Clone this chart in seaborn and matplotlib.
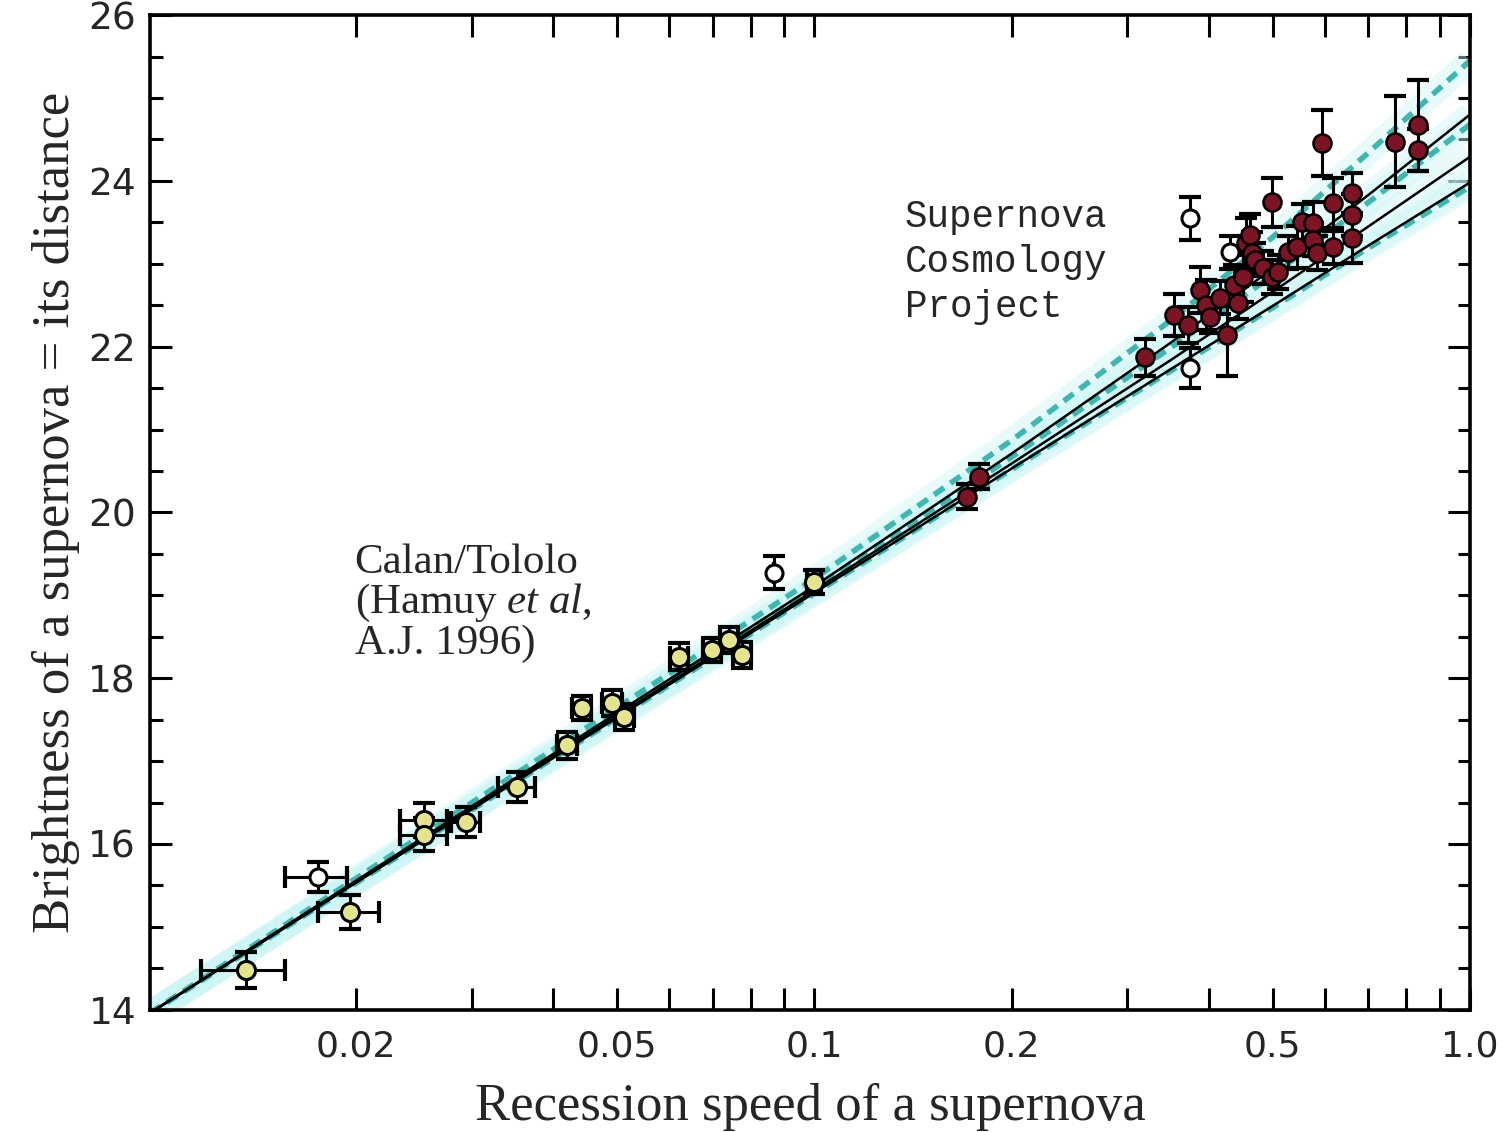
import numpy as np
import pandas as pd
import seaborn as sns
import matplotlib.pyplot as plt
from matplotlib.ticker import FixedLocator, FixedFormatter, MultipleLocator

sns.set_theme(style="white")
plt.rcParams["mathtext.fontset"] = "custom"
plt.rcParams["mathtext.rm"] = "Liberation Serif"
plt.rcParams["mathtext.it"] = "Liberation Serif:italic"

# Calan/Tololo supernovae (filled, yellow)
ct_x = [0.0136, 0.0196, 0.0254, 0.0254, 0.0294, 0.0352, 0.0420, 0.0442, 0.0492,
        0.0513, 0.0622, 0.0699, 0.0742, 0.0776, 0.100]
ct_y = [14.48, 15.18, 16.29, 16.11, 16.27, 16.69, 17.19, 17.64, 17.70,
        17.53, 18.26, 18.34, 18.46, 18.28, 19.16]
ct_yerr = [0.22, 0.20, 0.20, 0.20, 0.18, 0.18, 0.16, 0.15, 0.16,
           0.16, 0.16, 0.15, 0.16, 0.16, 0.15]
ct_xerr = [0.0020, 0.0021, 0.0021, 0.0021, 0.0015, 0.0023, 0.0015, 0.0015, 0.0017,
           0.0017, 0.0020, 0.0022, 0.0023, 0.0024, 0.0025]

# Calan/Tololo open symbols
cto_x = [0.0175, 0.0869]
cto_y = [15.60, 19.27]
cto_yerr = [0.18, 0.20]
cto_xerr = [0.0019, 0.0]

# Supernova Cosmology Project (filled, dark red)
scp_x = [0.1712, 0.1786, 0.319, 0.354, 0.371, 0.387, 0.395, 0.401, 0.4155, 0.426,
         0.437, 0.4425, 0.450, 0.455, 0.4615, 0.4647, 0.470, 0.483, 0.4987, 0.4987,
         0.510, 0.527, 0.545, 0.554, 0.576, 0.576, 0.584, 0.594, 0.618, 0.618,
         0.661, 0.661, 0.661, 0.768, 0.833, 0.833]
scp_y = [20.19, 20.43, 21.87, 22.38, 22.26, 22.68, 22.50, 22.36, 22.59, 22.14,
         22.74, 22.53, 22.84, 23.25, 23.35, 23.13, 23.05, 22.95, 22.84, 23.74,
         22.90, 23.14, 23.20, 23.50, 23.49, 23.29, 23.13, 24.46, 23.73, 23.20,
         23.85, 23.59, 23.31, 24.47, 24.67, 24.37]
scp_yerr = [0.15, 0.15, 0.22, 0.25, 0.22, 0.28, 0.30, 0.20, 0.20, 0.50,
            0.25, 0.20, 0.30, 0.30, 0.25, 0.25, 0.20, 0.20, 0.20, 0.30,
            0.20, 0.20, 0.25, 0.22, 0.25, 0.20, 0.20, 0.40, 0.30, 0.20,
            0.25, 0.25, 0.30, 0.55, 0.55, 0.25]

# SCP open symbols
scpo_x = [0.374, 0.374, 0.430]
scpo_y = [23.55, 21.74, 23.14]
scpo_yerr = [0.26, 0.24, 0.20]

# model curves
model_x = [0.0097, 0.1, 0.2, 0.35, 0.5, 0.7, 1.0]
solid_a = [13.96, 19.11, 20.71, 22.05, 22.94, 23.83, 24.80]
solid_b = [13.96, 19.06, 20.59, 21.84, 22.66, 23.45, 24.29]
solid_c = [13.96, 19.03, 20.53, 21.73, 22.49, 23.22, 23.98]
dash_a = [13.96, 19.20, 20.87, 22.32, 23.32, 24.34, 25.45]
dash_b = [13.96, 19.09, 20.67, 21.99, 22.86, 23.74, 24.68]
dash_c = [13.96, 19.02, 20.52, 21.71, 22.47, 23.19, 23.93]

x_ticks = [0.02, 0.03, 0.04, 0.05, 0.06, 0.07, 0.08, 0.09, 0.1,
           0.2, 0.3, 0.4, 0.5, 0.6, 0.7, 0.8, 0.9, 1.0]
x_labels = ["0.02", "", "", "0.05", "", "", "", "", "0.1",
            "0.2", "", "", "0.5", "", "", "", "", "1.0"]

fig = plt.figure(figsize=(15.06, 11.32), dpi=100)
ax = fig.add_axes([0.0996, 0.108, 0.8765, 0.8787])

# cyan halo under the model curves
for ys in [solid_a, solid_b, solid_c, dash_a, dash_b, dash_c]:
    ax.plot(model_x, ys, color="#cff6f6", lw=18, alpha=0.45, solid_capstyle="butt", zorder=1)

for ys in [dash_a, dash_b, dash_c]:
    sns.lineplot(x=model_x, y=ys, ax=ax, color="#3cb8b0", lw=4,
                 linestyle=(0, (2.2, 1.4)), zorder=2)
for ys in [solid_a, solid_b, solid_c]:
    sns.lineplot(x=model_x, y=ys, ax=ax, color="black", lw=1.8, zorder=3)

eb = dict(fmt="none", ecolor="black", elinewidth=2.2, capsize=8, capthick=3, zorder=4)
ax.errorbar(ct_x, ct_y, yerr=ct_yerr, xerr=ct_xerr, **eb)
ax.errorbar(cto_x, cto_y, yerr=cto_yerr, xerr=cto_xerr, **eb)
ax.errorbar(scp_x, scp_y, yerr=scp_yerr, **eb)
ax.errorbar(scpo_x, scpo_y, yerr=scpo_yerr, **eb)

sns.scatterplot(x=ct_x, y=ct_y, ax=ax, s=170, color="#e4e48c",
                edgecolor="black", linewidth=2.2, zorder=5)
sns.scatterplot(x=cto_x, y=cto_y, ax=ax, s=150, color="white",
                edgecolor="black", linewidth=2.2, zorder=5)
sns.scatterplot(x=scp_x, y=scp_y, ax=ax, s=170, color="#7c1426",
                edgecolor="black", linewidth=1.8, zorder=5)
sns.scatterplot(x=scpo_x, y=scpo_y, ax=ax, s=150, color="white",
                edgecolor="black", linewidth=2.2, zorder=5)

ax.set_xscale("log")
ax.set_xlim(0.0097, 1.0)
ax.set_ylim(14, 26)

ax.xaxis.set_major_locator(FixedLocator(x_ticks))
ax.xaxis.set_major_formatter(FixedFormatter(x_labels))
ax.xaxis.set_minor_locator(FixedLocator([]))
ax.yaxis.set_major_locator(MultipleLocator(2))
ax.yaxis.set_minor_locator(MultipleLocator(0.5))

ax.tick_params(axis="both", which="major", direction="in", length=16, width=2.2,
               top=True, right=True, bottom=True, left=True, color="black")
ax.tick_params(axis="both", which="minor", direction="in", length=9, width=2.2,
               top=True, right=True, bottom=True, left=True, color="black")
ax.tick_params(axis="y", which="major", labelsize=27, pad=10)
ax.tick_params(axis="x", which="major", labelsize=26, pad=14)
for lab in ax.get_yticklabels():
    lab.set_family(["DejaVu Sans"])
for lab in ax.get_xticklabels():
    lab.set_family(["Liberation Sans Narrow", "DejaVu Sans"])

for sp in ax.spines.values():
    sp.set_linewidth(2.6)
    sp.set_color("black")

ax.set_xlabel("Recession speed of a supernova", family=["Liberation Serif"],
              fontsize=38, labelpad=14)
ax.set_ylabel("Brightness of a supernova = its distance", family=["Liberation Serif"],
              fontsize=38, labelpad=6)

ax.text(0.0199, 19.63, "Calan/Tololo\n(Hamuy $\\mathit{et\\ al}$,\nA.J. 1996)",
        family=["Liberation Serif"], fontsize=31, linespacing=1.02, va="top")
ax.text(0.1374, 23.78, "Supernova\nCosmology\nProject",
        family=["Liberation Mono"], fontsize=27, linespacing=1.32, va="top")

fig.savefig("out.png", dpi=100)
